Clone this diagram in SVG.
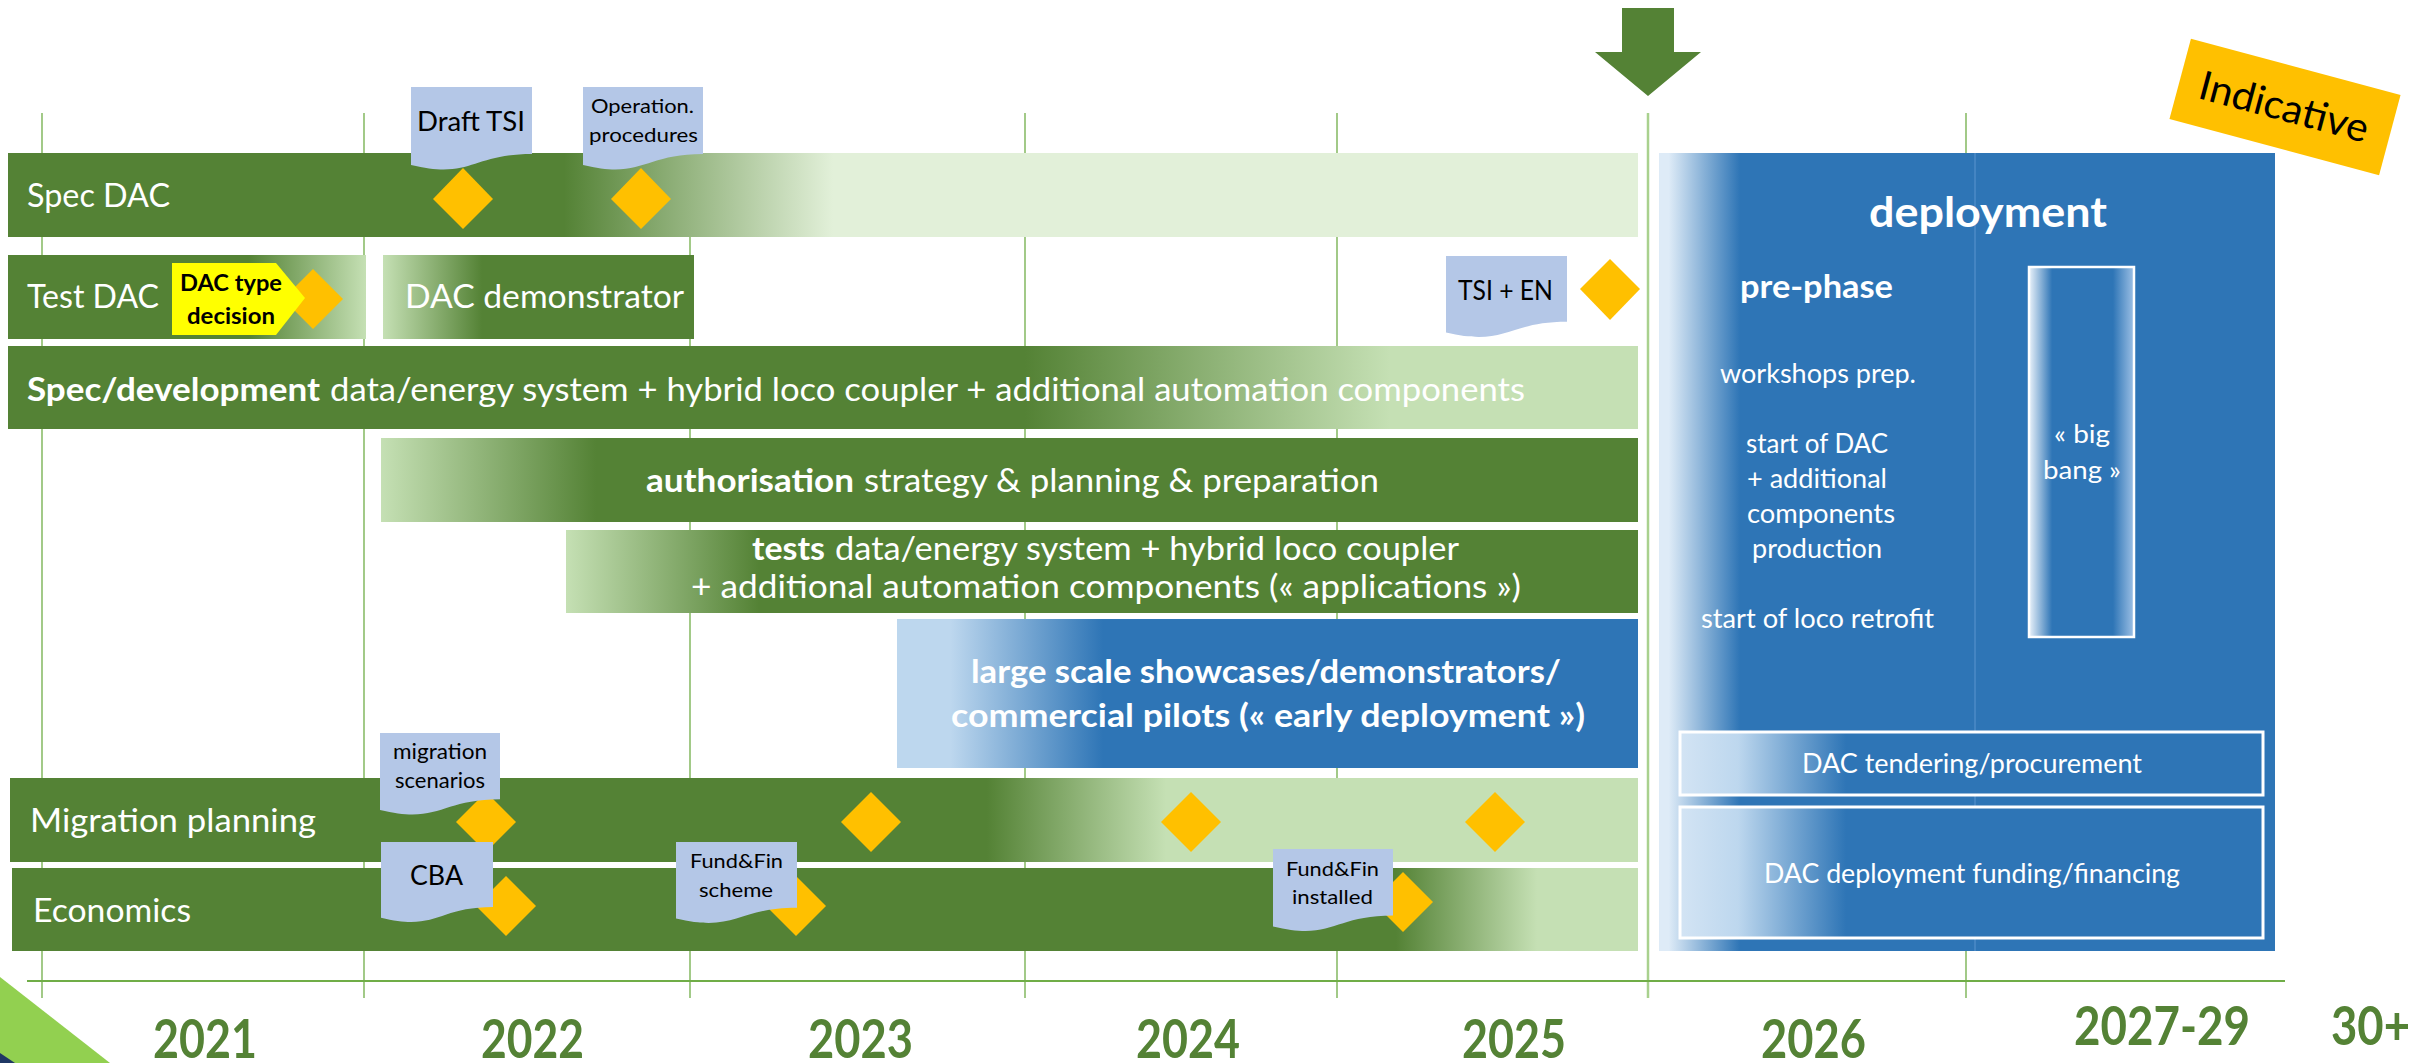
<svg xmlns="http://www.w3.org/2000/svg" width="2422" height="1063" viewBox="0 0 2422 1063">
  <defs>
    <style>
      text { font-family: Lato, "Liberation Sans", sans-serif; }
      .lbl { fill: #ffffff; font-size: 32px; }
      .b { font-weight: bold; }
      .blk { fill: #000000; }
      .wt { fill: #ffffff; }
      .doc { fill: #B4C7E7; }
      .dia { fill: #FFC000; }
      .grid { stroke: #70AD47; stroke-width: 1.3; fill: none; }
      .year { fill: #548235; font-size: 54px; font-weight: bold; }
      .box { stroke: #ffffff; stroke-width: 3; }
    </style>
    <linearGradient id="gSpec" gradientUnits="userSpaceOnUse" x1="564" y1="0" x2="833" y2="0">
      <stop offset="0" stop-color="#548235"/><stop offset="1" stop-color="#E2F0D9"/>
    </linearGradient>
    <linearGradient id="gTest" gradientUnits="userSpaceOnUse" x1="249" y1="0" x2="366" y2="0">
      <stop offset="0" stop-color="#548235"/><stop offset="1" stop-color="#C5E0B4"/>
    </linearGradient>
    <linearGradient id="gDemo" gradientUnits="userSpaceOnUse" x1="383" y1="0" x2="482" y2="0">
      <stop offset="0" stop-color="#C5E0B4"/><stop offset="1" stop-color="#548235"/>
    </linearGradient>
    <linearGradient id="gDev" gradientUnits="userSpaceOnUse" x1="1025" y1="0" x2="1390" y2="0">
      <stop offset="0" stop-color="#548235"/><stop offset="1" stop-color="#C5E0B4"/>
    </linearGradient>
    <linearGradient id="gAuth" gradientUnits="userSpaceOnUse" x1="381" y1="0" x2="596" y2="0">
      <stop offset="0" stop-color="#C5E0B4"/><stop offset="1" stop-color="#548235"/>
    </linearGradient>
    <linearGradient id="gTests" gradientUnits="userSpaceOnUse" x1="566" y1="0" x2="759" y2="0">
      <stop offset="0" stop-color="#C5E0B4"/><stop offset="1" stop-color="#548235"/>
    </linearGradient>
    <linearGradient id="gLarge" gradientUnits="userSpaceOnUse" x1="897" y1="0" x2="1103" y2="0">
      <stop offset="0" stop-color="#BDD7EE"/><stop offset="0.26" stop-color="#BDD7EE"/><stop offset="1" stop-color="#2E75B6"/>
    </linearGradient>
    <linearGradient id="gMig" gradientUnits="userSpaceOnUse" x1="987" y1="0" x2="1166" y2="0">
      <stop offset="0" stop-color="#548235"/><stop offset="1" stop-color="#C5E0B4"/>
    </linearGradient>
    <linearGradient id="gEco" gradientUnits="userSpaceOnUse" x1="1396" y1="0" x2="1537" y2="0">
      <stop offset="0" stop-color="#548235"/><stop offset="1" stop-color="#C5E0B4"/>
    </linearGradient>
    <linearGradient id="gDep" gradientUnits="userSpaceOnUse" x1="1659" y1="0" x2="1740" y2="0">
      <stop offset="0" stop-color="#DEEBF7"/><stop offset="0.12" stop-color="#DEEBF7"/><stop offset="1" stop-color="#2E75B6"/>
    </linearGradient>
    <linearGradient id="gBox" gradientUnits="userSpaceOnUse" x1="1680" y1="0" x2="1846" y2="0">
      <stop offset="0" stop-color="#D3E4F4"/><stop offset="0.35" stop-color="#BDD7EE"/><stop offset="1" stop-color="#2E75B6"/>
    </linearGradient>
    <linearGradient id="gBang" gradientUnits="userSpaceOnUse" x1="2029" y1="0" x2="2134" y2="0">
      <stop offset="0" stop-color="#EAF2FA"/><stop offset="0.22" stop-color="#2E75B6"/><stop offset="0.8" stop-color="#2E75B6"/><stop offset="1" stop-color="#9DC0E5"/>
    </linearGradient>
  </defs>

  <rect width="2422" height="1063" fill="#ffffff"/>

  <!-- slide corner decoration -->
  <polygon points="0,977 110,1063 0,1063" fill="#92D050"/>
  <polygon points="0,1053 15,1063 0,1063" fill="#1F3864"/>

  <!-- year grid and time axis -->
  <g id="timeline">
    <line class="grid" x1="42" y1="113" x2="42" y2="998"/>
    <line class="grid" x1="364" y1="113" x2="364" y2="998"/>
    <line class="grid" x1="690" y1="113" x2="690" y2="998"/>
    <line class="grid" x1="1025" y1="113" x2="1025" y2="998"/>
    <line class="grid" x1="1337" y1="113" x2="1337" y2="998"/>
    <line class="grid" x1="1966" y1="113" x2="1966" y2="998"/>
    <line x1="1648" y1="113" x2="1648" y2="998" stroke="#A9D18E" stroke-width="2.5"/>
    <line x1="27" y1="981" x2="2285" y2="981" stroke="#70AD47" stroke-width="2"/>
  </g>

  <!-- "today" marker arrow -->
  <g id="connectors">
    <polygon points="1622,8 1674,8 1674,52 1701,52 1648,96 1595,52 1622,52" fill="#548235"/>
  </g>

  <g id="indicative" transform="translate(2285,107) rotate(15)">
    <rect x="-108.5" y="-41.5" width="217" height="83" fill="#FFC000"/>
    <text class="blk" x="-88" y="14" font-size="40" textLength="174" lengthAdjust="spacingAndGlyphs">Indicative</text>
  </g>

  <!-- Spec DAC -->
  <g id="spec-dac">
    <rect x="8" y="153" width="1630" height="84" fill="url(#gSpec)"/>
    <text class="lbl" x="27" y="207" textLength="143" lengthAdjust="spacingAndGlyphs">Spec DAC</text>
    <polygon class="dia" points="463,168 493,199 463,229 433,199"/>
    <polygon class="dia" points="641,168 671,199 641,229 611,199"/>
  </g>
  <g id="draft-tsi">
    <path class="doc" d="M411,87 h121 v67 C471.5,154 471.5,179.5 411,165 Z"/>
    <text class="blk" x="417" y="131" font-size="27" textLength="108" lengthAdjust="spacingAndGlyphs">Draft TSI</text>
  </g>
  <g id="operation-procedures">
    <path class="doc" d="M583,87 h120 v67 C643,154 643,179.5 583,165 Z"/>
    <text class="blk" x="591" y="113" font-size="20" textLength="103" lengthAdjust="spacingAndGlyphs">Operation.</text>
    <text class="blk" x="589" y="142" font-size="20" textLength="109" lengthAdjust="spacingAndGlyphs">procedures</text>
  </g>

  <!-- Test DAC -->
  <g id="test-dac">
    <rect x="8" y="255" width="358" height="84" fill="url(#gTest)"/>
    <text class="lbl" x="27" y="308" textLength="132" lengthAdjust="spacingAndGlyphs">Test DAC</text>
    <polygon class="dia" points="313,269 343,299 313,329 283,299"/>
  </g>
  <g id="dac-type-decision">
    <polygon points="172,263 276,263 305,298 276,335 172,335" fill="#FFFF00"/>
    <text class="blk b" x="180" y="291" font-size="22" textLength="102" lengthAdjust="spacingAndGlyphs">DAC type</text>
    <text class="blk b" x="187" y="324" font-size="22" textLength="88" lengthAdjust="spacingAndGlyphs">decision</text>
  </g>
  <g id="dac-demonstrator">
    <rect x="383" y="255" width="311" height="84" fill="url(#gDemo)"/>
    <text class="lbl" x="405" y="308" textLength="279" lengthAdjust="spacingAndGlyphs">DAC demonstrator</text>
  </g>
  <g id="tsi-en">
    <path class="doc" d="M1446,256 h121 v65.8 C1506.5,321.8 1506.5,346.9 1446,332.6 Z"/>
    <text class="blk" x="1458" y="300" font-size="26" textLength="95" lengthAdjust="spacingAndGlyphs">TSI + EN</text>
    <polygon class="dia" points="1610,259 1640,289 1610,320 1580,289"/>
  </g>

  <!-- Spec/development -->
  <g id="spec-development">
    <rect x="8" y="346" width="1630" height="83" fill="url(#gDev)"/>
    <text class="lbl b" x="27" y="401" textLength="293" lengthAdjust="spacingAndGlyphs">Spec/development</text>
    <text class="lbl" x="330" y="401" textLength="1195" lengthAdjust="spacingAndGlyphs">data/energy system + hybrid loco coupler + additional automation components</text>
  </g>

  <!-- authorisation -->
  <g id="authorisation">
    <rect x="381" y="438" width="1257" height="84" fill="url(#gAuth)"/>
    <text class="lbl b" x="646" y="492" textLength="208" lengthAdjust="spacingAndGlyphs">authorisation</text>
    <text class="lbl" x="864" y="492" textLength="515" lengthAdjust="spacingAndGlyphs">strategy &amp; planning &amp; preparation</text>
  </g>

  <!-- tests -->
  <g id="tests">
    <rect x="566" y="530" width="1072" height="83" fill="url(#gTests)"/>
    <text class="lbl b" x="752" y="560" textLength="73" lengthAdjust="spacingAndGlyphs">tests</text>
    <text class="lbl" x="835" y="560" textLength="624" lengthAdjust="spacingAndGlyphs">data/energy system + hybrid loco coupler</text>
    <text class="lbl" x="691" y="598" textLength="830" lengthAdjust="spacingAndGlyphs">+ additional automation components (« applications »)</text>
  </g>

  <!-- large scale showcases -->
  <g id="early-deployment">
    <rect x="897" y="619" width="741" height="149" fill="url(#gLarge)"/>
    <text class="lbl b" x="971" y="683" font-size="33" textLength="590" lengthAdjust="spacingAndGlyphs">large scale showcases/demonstrators/</text>
    <text class="lbl b" x="951" y="727" font-size="33" textLength="634" lengthAdjust="spacingAndGlyphs">commercial pilots (« early deployment »)</text>
  </g>

  <!-- Migration planning -->
  <g id="migration-planning">
    <rect x="10" y="778" width="1628" height="84" fill="url(#gMig)"/>
    <text class="lbl" x="30" y="832" textLength="286" lengthAdjust="spacingAndGlyphs">Migration planning</text>
    <polygon class="dia" points="486,792 516,822 486,852 456,822"/>
    <polygon class="dia" points="871,792 901,822 871,852 841,822"/>
    <polygon class="dia" points="1191,792 1221,822 1191,852 1161,822"/>
    <polygon class="dia" points="1495,792 1525,822 1495,852 1465,822"/>
  </g>
  <g id="migration-scenarios">
    <path class="doc" d="M380,733 h120 v66.2 C440,799.2 440,824.4 380,810 Z"/>
    <text class="blk" x="393" y="759" font-size="21" textLength="94" lengthAdjust="spacingAndGlyphs">migration</text>
    <text class="blk" x="395" y="788" font-size="21" textLength="90" lengthAdjust="spacingAndGlyphs">scenarios</text>
  </g>

  <!-- Economics -->
  <g id="economics">
    <rect x="12" y="868" width="1626" height="83" fill="url(#gEco)"/>
    <text class="lbl" x="33" y="922" textLength="158" lengthAdjust="spacingAndGlyphs">Economics</text>
    <polygon class="dia" points="506,876 536,906 506,936 476,906"/>
    <polygon class="dia" points="796,876 826,906 796,936 766,906"/>
    <polygon class="dia" points="1403,872 1433,902 1403,932 1373,902"/>
  </g>
  <g id="cba">
    <path class="doc" d="M381,842 h112 v65 C437,907 437,931.7 381,917.7 Z"/>
    <text class="blk" x="410" y="885" font-size="27" textLength="53" lengthAdjust="spacingAndGlyphs">CBA</text>
  </g>
  <g id="fundfin-scheme">
    <path class="doc" d="M676,842 h121 v65.8 C736.5,907.8 736.5,932.9 676,918.6 Z"/>
    <text class="blk" x="690" y="868" font-size="20" textLength="93" lengthAdjust="spacingAndGlyphs">Fund&amp;Fin</text>
    <text class="blk" x="699" y="897" font-size="20" textLength="74" lengthAdjust="spacingAndGlyphs">scheme</text>
  </g>
  <g id="fundfin-installed">
    <path class="doc" d="M1273,849 h120 v66.6 C1333,915.6 1333,941 1273,926.5 Z"/>
    <text class="blk" x="1286" y="876" font-size="20" textLength="93" lengthAdjust="spacingAndGlyphs">Fund&amp;Fin</text>
    <text class="blk" x="1292" y="904" font-size="20" textLength="81" lengthAdjust="spacingAndGlyphs">installed</text>
  </g>

  <!-- deployment phase -->
  <g id="deployment">
    <rect x="1659" y="153" width="616" height="798" fill="url(#gDep)"/>
    <line x1="1975" y1="153" x2="1975" y2="951" stroke="#5B95CF" stroke-width="1"/>
    <text class="wt b" x="1869" y="227" font-size="42" textLength="238" lengthAdjust="spacingAndGlyphs">deployment</text>
    <text class="wt b" x="1740" y="298" font-size="32" textLength="153" lengthAdjust="spacingAndGlyphs">pre-phase</text>
    <text class="wt" x="1720" y="383" font-size="26" textLength="196" lengthAdjust="spacingAndGlyphs">workshops prep.</text>
    <text class="wt" x="1746" y="453" font-size="26" textLength="142" lengthAdjust="spacingAndGlyphs">start of DAC</text>
    <text class="wt" x="1747" y="488" font-size="26" textLength="140" lengthAdjust="spacingAndGlyphs">+ additional</text>
    <text class="wt" x="1747" y="523" font-size="26" textLength="148" lengthAdjust="spacingAndGlyphs">components</text>
    <text class="wt" x="1752" y="558" font-size="26" textLength="130" lengthAdjust="spacingAndGlyphs">production</text>
    <text class="wt" x="1701" y="628" font-size="26" textLength="233" lengthAdjust="spacingAndGlyphs">start of loco retrofit</text>
  </g>
  <g id="big-bang">
    <rect x="2029" y="267" width="105" height="370" fill="url(#gBang)" stroke="#ffffff" stroke-width="2.5"/>
    <text class="wt" x="2054" y="443" font-size="25" textLength="56" lengthAdjust="spacingAndGlyphs">« big</text>
    <text class="wt" x="2043" y="479" font-size="25" textLength="78" lengthAdjust="spacingAndGlyphs">bang »</text>
  </g>
  <g id="dac-tendering">
    <rect class="box" x="1680" y="732" width="583" height="63" fill="url(#gBox)"/>
    <text class="wt" x="1802" y="773" font-size="26" textLength="340" lengthAdjust="spacingAndGlyphs">DAC tendering/procurement</text>
  </g>
  <g id="dac-funding">
    <rect class="box" x="1680" y="807" width="583" height="131" fill="url(#gBox)"/>
    <text class="wt" x="1764" y="883" font-size="26" textLength="416" lengthAdjust="spacingAndGlyphs">DAC deployment funding/financing</text>
  </g>

  <!-- year labels -->
  <g id="years">
    <text class="year" x="153" y="1058" textLength="104" lengthAdjust="spacingAndGlyphs">2021</text>
    <text class="year" x="481" y="1058" textLength="103" lengthAdjust="spacingAndGlyphs">2022</text>
    <text class="year" x="808" y="1058" textLength="105" lengthAdjust="spacingAndGlyphs">2023</text>
    <text class="year" x="1136" y="1058" textLength="104" lengthAdjust="spacingAndGlyphs">2024</text>
    <text class="year" x="1462" y="1058" textLength="104" lengthAdjust="spacingAndGlyphs">2025</text>
    <text class="year" x="1761" y="1058" textLength="105" lengthAdjust="spacingAndGlyphs">2026</text>
    <text class="year" x="2074" y="1045" textLength="176" lengthAdjust="spacingAndGlyphs">2027-29</text>
    <text class="year" x="2331" y="1045" textLength="79" lengthAdjust="spacingAndGlyphs">30+</text>
  </g>
</svg>
